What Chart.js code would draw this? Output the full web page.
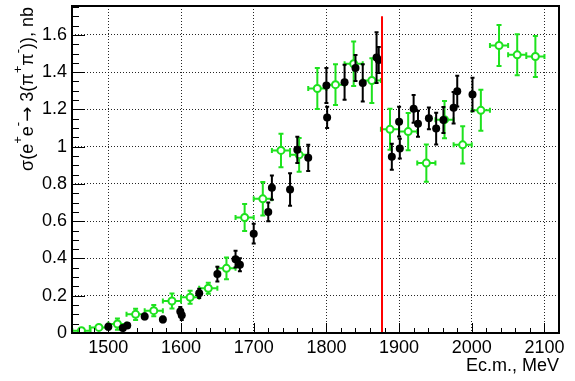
<!DOCTYPE html>
<html><head><meta charset="utf-8">
<script src="https://cdn.jsdelivr.net/npm/chart.js@4"></script>
<style>html,body{margin:0;padding:0;background:#fff}canvas{display:block}</style>
</head><body>
<canvas id="c" width="575" height="381"></canvas>
<script>
// ---- data ----
const blackE     = [1500, 1520, 1526, 1550, 1575, 1599, 1601, 1625, 1650, 1675, 1681, 1700, 1720, 1725, 1750, 1760, 1775, 1800, 1801, 1825, 1840, 1850, 1869, 1872, 1890, 1900, 1901, 1920, 1926, 1941, 1951, 1961, 1975, 1980, 2001];
const blackSigma = [0.034, 0.027, 0.040, 0.089, 0.073, 0.115, 0.095, 0.213, 0.316, 0.396, 0.366, 0.533, 0.650, 0.780, 0.770, 0.983, 0.940, 1.328, 1.157, 1.346, 1.422, 1.342, 1.478, 1.465, 0.946, 1.134, 0.990, 1.203, 1.123, 1.152, 1.097, 1.143, 1.209, 1.298, 1.280];
const blackErr   = [0.015, 0.012, 0.012, 0.015, 0.015, 0.025, 0.025, 0.025, 0.040, 0.045, 0.035, 0.053, 0.050, 0.065, 0.087, 0.070, 0.070, 0.094, 0.057, 0.094, 0.070, 0.100, 0.136, 0.070, 0.070, 0.080, 0.053, 0.075, 0.070, 0.058, 0.085, 0.070, 0.085, 0.083, 0.090];

const greenE     = [1463, 1487, 1512.5, 1537.5, 1562.5, 1587.5, 1612.5, 1637.5, 1662.5, 1687.5, 1712.5, 1737.5, 1762.5, 1787.5, 1812.5, 1837.5, 1862.5, 1887.5, 1912.5, 1937.5, 1962.5, 1987.5, 2012.5, 2037.5, 2062.5, 2087.5];
const greenSigma = [0.012, 0.030, 0.048, 0.100, 0.120, 0.172, 0.192, 0.240, 0.347, 0.620, 0.720, 0.980, 0.956, 1.312, 1.333, 1.445, 1.355, 1.093, 1.081, 0.912, 1.145, 1.010, 1.195, 1.543, 1.493, 1.484];
const greenErr   = [0.010, 0.012, 0.030, 0.030, 0.030, 0.040, 0.035, 0.030, 0.058, 0.073, 0.090, 0.090, 0.090, 0.110, 0.110, 0.120, 0.120, 0.110, 0.100, 0.100, 0.100, 0.100, 0.110, 0.110, 0.110, 0.110];
const greenEErr  = [12.5, 12.5, 12.5, 12.5, 12.5, 12.5, 12.5, 12.5, 12.5, 12.5, 12.5, 12.5, 12.5, 12.5, 12.5, 12.5, 12.5, 12.5, 12.5, 12.5, 12.5, 12.5, 12.5, 12.5, 12.5, 12.5];

const thresholdE   = 1876.5;   // 2 m_p
const thresholdTop = 1.7;

const xTickValues = [1500, 1600, 1700, 1800, 1900, 2000, 2100];
const yTickValues = [0, 0.2, 0.4, 0.6, 0.8, 1, 1.2, 1.4, 1.6];
const xMinorStep = 20;
const yMinorStep = 0.05;
const xTitle = 'Ec.m., MeV';
// 0 = normal, 1 = superscript, 2 = arrow symbol
const yTitleParts = [['σ(e', 0], ['+', 1], ['e', 0], ['-', 1], ['→', 2], [' 3(π', 0], ['+', 1], ['π', 0], ['-', 1], [')), nb', 0]];

// ---- style ----
const FONT = "'Liberation Sans', Arial, Helvetica, sans-serif";
const GREEN = '#1ee21e';

function drawVErr(ctx, xs, ys, e, err, sig, cap) {
  const px = xs.getPixelForValue(e);
  const p1 = ys.getPixelForValue(sig - err), p2 = ys.getPixelForValue(sig + err);
  ctx.moveTo(px, p1); ctx.lineTo(px, p2);
  ctx.moveTo(px - cap, p1); ctx.lineTo(px + cap, p1);
  ctx.moveTo(px - cap, p2); ctx.lineTo(px + cap, p2);
}

function partFont(s) {
  if (s === 1) return '13px ' + FONT;
  if (s === 2) return "18px 'DejaVu Sans', sans-serif";
  return '18px ' + FONT;
}

const rootPlugin = {
  id: 'rootStyle',
  beforeDatasetDraw(chart, args) {
    const {ctx, scales: {x, y}} = chart;
    ctx.save();
    ctx.lineWidth = 2;
    ctx.beginPath();
    if (args.index === 1) {
      ctx.strokeStyle = '#000';
      blackE.forEach((e, i) => drawVErr(ctx, x, y, e, blackErr[i], blackSigma[i], 2));
    } else if (args.index === 2) {
      ctx.strokeStyle = GREEN;
      greenE.forEach((e, i) => {
        drawVErr(ctx, x, y, e, greenErr[i], greenSigma[i], 2.5);
        const py = y.getPixelForValue(greenSigma[i]);
        const l = x.getPixelForValue(e - greenEErr[i]), r = x.getPixelForValue(e + greenEErr[i]);
        ctx.moveTo(l, py); ctx.lineTo(r, py);
        ctx.moveTo(l, py - 2.5); ctx.lineTo(l, py + 2.5);
        ctx.moveTo(r, py - 2.5); ctx.lineTo(r, py + 2.5);
      });
    }
    ctx.stroke();
    ctx.restore();
  },
  afterDraw(chart) {
    const {ctx, chartArea: a, scales: {x, y}} = chart;
    ctx.save();
    // inside ticks (ROOT style)
    ctx.strokeStyle = '#000';
    ctx.lineWidth = 1;
    ctx.beginPath();
    for (let v = Math.ceil(x.min / xMinorStep) * xMinorStep; v <= x.max; v += xMinorStep) {
      const px = Math.round(x.getPixelForValue(v)) + 0.5;
      const major = xTickValues.includes(v);
      ctx.moveTo(px, a.bottom); ctx.lineTo(px, a.bottom - (major ? 10 : 5));
    }
    for (let k = 1; k * yMinorStep <= y.max + 1e-9; k++) {
      const py = Math.round(y.getPixelForValue(k * yMinorStep)) + 0.5;
      const major = k % 4 === 0;
      ctx.moveTo(a.left, py); ctx.lineTo(a.left + (major ? 13 : 7), py);
    }
    ctx.stroke();
    // frame
    ctx.lineWidth = 2;
    ctx.strokeRect(a.left, a.top, a.right - a.left, a.bottom - a.top);
    // y title with superscripts
    const raise = 11;
    ctx.fillStyle = '#000';
    ctx.textBaseline = 'alphabetic';
    ctx.textAlign = 'left';
    let total = 0;
    const widths = yTitleParts.map(([t, s]) => { ctx.font = partFont(s); const w = ctx.measureText(t).width; total += w; return w; });
    ctx.translate(33, a.top + 1);
    ctx.rotate(-Math.PI / 2);
    let cx = -total;
    yTitleParts.forEach(([t, s], i) => {
      ctx.font = partFont(s);
      ctx.fillText(t, cx, s === 1 ? -raise : 0);
      cx += widths[i];
    });
    ctx.restore();
  }
};

const gridOpts = {color: 'rgba(0,0,0,0.85)', lineWidth: 1, drawTicks: false};
const borderOpts = {display: false, dash: [1, 2]};

new Chart(document.getElementById('c').getContext('2d'), {
  type: 'scatter',
  data: {
    datasets: [
      {type: 'line', data: [{x: thresholdE, y: 0}, {x: thresholdE, y: thresholdTop}], borderColor: '#ff0000', borderWidth: 2, pointRadius: 0, showLine: true, fill: false},
      {data: blackE.map((e, i) => ({x: e, y: blackSigma[i]})), pointRadius: 4, pointStyle: 'circle', backgroundColor: '#000', borderColor: '#000', borderWidth: 0},
      {data: greenE.map((e, i) => ({x: e, y: greenSigma[i]})), pointRadius: 3.5, pointStyle: 'circle', backgroundColor: '#fff', borderColor: GREEN, borderWidth: 2}
    ]
  },
  options: {
    responsive: false, animation: false, devicePixelRatio: 1,
    layout: {padding: {left: 0, right: 16, top: 4, bottom: 0}},
    plugins: {legend: {display: false}, tooltip: {enabled: false}},
    scales: {
      x: {
        type: 'linear', position: 'bottom', min: 1450, max: 2120,
        afterFit: s => { s.height = 48; s.paddingLeft = 0; s.paddingRight = 0; },
        afterBuildTicks: s => { s.ticks = xTickValues.map(v => ({value: v})); },
        grid: gridOpts, border: borderOpts,
        ticks: {color: '#000', font: {family: FONT, size: 18}, padding: 4, maxRotation: 0, autoSkip: false, callback: v => String(v)},
        title: {display: true, text: xTitle, align: 'end', color: '#000', font: {family: FONT, size: 18}, padding: {top: 0, bottom: 4}}
      },
      y: {
        type: 'linear', position: 'left', min: 0, max: 1.755,
        afterFit: s => { s.width = 72; s.paddingTop = 0; s.paddingBottom = 0; },
        afterBuildTicks: s => { s.ticks = yTickValues.map(v => ({value: v})); },
        grid: gridOpts, border: borderOpts,
        ticks: {color: '#000', font: {family: FONT, size: 18}, padding: 5, autoSkip: false, callback: v => String(v)}
      }
    }
  },
  plugins: [rootPlugin]
});
</script>
</body></html>
